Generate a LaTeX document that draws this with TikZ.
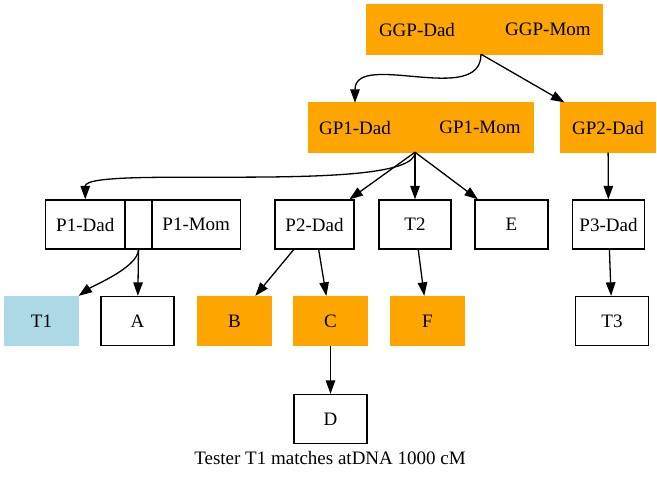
\documentclass[tikz,border=0pt]{standalone}
\usepackage{fontspec}
\setmainfont{Liberation Serif}
\usetikzlibrary{
    arrows.meta,
    calc,
    shapes,
}
\definecolor{gvorange}{HTML}{FFA500}
\definecolor{gvblue}{HTML}{ADD8E6}
\begin{document}
\begin{tikzpicture}[
        x=1pt, y=1pt,
        font=\fontsize{19}{23}\selectfont,
        person/.style={rectangle, draw=black, fill=white, line width=1.3pt, minimum width=73pt, minimum height=49pt, inner sep=0pt},
        match/.style={person, draw=gvorange, fill=gvorange},
        tester/.style={person, draw=gvblue, fill=gvblue},
        couple/.style={rectangle, draw=gvorange, fill=gvorange, line width=1.3pt, minimum height=49pt, inner sep=0pt},
        field/.style={rectangle, minimum height=49pt, inner sep=0pt},
        link/.style={-{Triangle[length=13.5pt, width=9.5pt]}, line width=1.3pt}
        ]
        \useasboundingbox (0,0) rectangle (657,-480);
        % couples
        \node[couple, minimum width=235pt] (GGP)    at (484.5,-29.5) {};
        \node[field]                       (GGPDad) at (417,-29.5)   {GGP-Dad};
        \node[field]                       (GGPMid) at (481,-29.5)   {};
        \node[field]                       (GGPMom) at (548,-29.5)   {GGP-Mom};
        \node[couple, minimum width=224pt] (GP1)    at (421,-127.5)  {};
        \node[field]                       (GP1Dad) at (355,-127.5)  {GP1-Dad};
        \node[field]                       (GP1Mid) at (415,-127.5)  {};
        \node[field]                       (GP1Mom) at (480,-127.5)  {GP1-Mom};
        \node[match, minimum width=95pt]   (GP2)    at (608,-127.5)  {GP2-Dad};
        % parents
        \node[person, minimum width=79.5pt] (P1Dad) at (85.25,-224.5) {P1-Dad};
        \node[person, minimum width=27pt]   (P1Mid) at (138.5,-224.5) {};
        \node[person, minimum width=88.5pt] (P1Mom) at (196.25,-224.5) {P1-Mom};
        \node[person, minimum width=79pt]   (P2Dad) at (314.5,-224.5) {P2-Dad};
        \node[person, minimum width=72pt]   (T2)    at (415,-224.5)   {T2};
        \node[person]                       (E)     at (511.5,-224.5) {E};
        \node[person, minimum width=72pt]   (P3Dad) at (608.5,-224.5) {P3-Dad};
        % children
        \node[tester] (T1) at (41.5,-321)  {T1};
        \node[person] (A)  at (137.5,-321) {A};
        \node[match]  (B)  at (234.5,-321) {B};
        \node[match]  (C)  at (330.5,-321) {C};
        \node[match]  (F)  at (427.5,-321) {F};
        \node[person] (T3) at (612,-321)   {T3};
        \node[person] (D)  at (330.5,-419) {D};
        \node (caption) at (330,-458) {Tester T1 matches atDNA 1000 cM};
        \draw[link] (GGPMid.south) to [out=-90,in=90] (GP1Dad.north);
        \draw[link] (GGPMid.south) -- (GP2);
        \draw[link] (GP1Mid.south) .. controls +(0,-43) and +(0,35) .. (P1Dad.north);
        \draw[link] (GP1Mid.south) -- (P2Dad);
        \draw[link] (GP1Mid.south) -- (T2);
        \draw[link] (GP1Mid.south) -- (E);
        \draw[link] (GP2) -- (P3Dad);
        \draw[link] (P1Mid.south) to [out=-92,in=35,looseness=0.6] (T1.north east);
        \draw[link] (P1Mid.south) -- (A);
        \draw[link] (P2Dad) -- (B);
        \draw[link] (P2Dad) -- (C);
        \draw[link] (T2) -- (F);
        \draw[link] (P3Dad) -- (T3);
        \draw[link] (C) -- (D);
    \end{tikzpicture}
\end{document}
